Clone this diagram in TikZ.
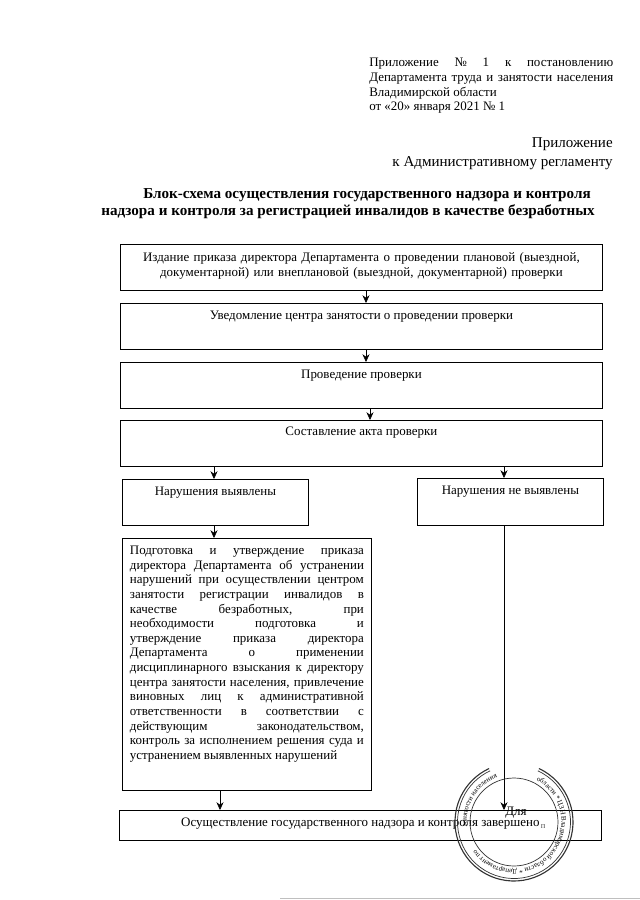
\documentclass[tikz,border=0pt]{standalone}
\usepackage{fontspec}
\setmainfont{Liberation Serif}
\usetikzlibrary{arrows.meta,positioning,decorations.text}
\newcommand{\bodyfont}{\fontsize{9.22}{10.42}\selectfont}
\begin{document}
\begin{tikzpicture}[x=0.25mm,y=-0.25mm,font=\bodyfont,
  box/.style={draw=black,line width=0.6pt,align=center,inner sep=0pt,text height=2.75mm},
  widebox/.style={box,minimum width=120.5mm,text depth=8.75mm},
  sidebox/.style={box,minimum width=46.5mm,text depth=7.75mm},
  lab/.style={inner sep=0pt,anchor=base west},
  labr/.style={inner sep=0pt,anchor=base east,align=right},
  ttl/.style={inner sep=0pt,anchor=base west,font=\fontsize{10.77}{12}\selectfont\bfseries},
  stamp/.style={black!80,line width=0.5pt},
  >={Stealth[length=5.5pt,width=5pt]}]
  \useasboundingbox (0,0) rectangle (640,900);
  \node[lab,text width=61mm,align=justify] (dec) at (369,67) {Приложение № 1 к постановлению\linebreak Департамента труда и занятости населения\linebreak Владимирской области\\от «20» января 2021 № 1};
  \node[labr,font=\fontsize{10.7}{12.9}\selectfont] (reg) at (613,166) {Приложение\\к Административному регламенту};
  \node[ttl] (t1) at (143,198) {Блок-схема осуществления государственного надзора и контроля};
  \node[ttl] (t2) at (101,215) {надзора и контроля за регистрацией инвалидов в качестве безработных};
  \node[widebox,anchor=north west,text width=120.5mm,text height=4.25mm,text depth=7.25mm] (order) at (120,244) {Издание приказа директора Департамента о проведении плановой (выездной,\\документарной) или внеплановой (выездной, документарной) проверки};
  \node[widebox,anchor=north west,text height=4mm,text depth=7.5mm] (notice) at (120,303) {Уведомление центра занятости о проведении проверки};
  \node[widebox,anchor=north west,text height=4mm,text depth=7.5mm] (check) at (120,362) {Проведение проверки};
  \node[widebox,anchor=north west,text height=3.75mm,text depth=7.75mm] (act) at (120,420) {Составление акта проверки};
  \node[sidebox,anchor=north west,text height=4mm,text depth=7.5mm] (found) at (122,479) {Нарушения выявлены};
  \node[sidebox,anchor=north west,text height=4mm,text depth=7.75mm] (clean) at (417,478) {Нарушения не выявлены};
  \node[box,anchor=north west,minimum width=62.25mm,text width=58.5mm,align=justify,inner xsep=1.875mm,text height=4mm,text depth=59mm] (fix) at (122,538) {Подготовка и утверждение приказа\linebreak директора Департамента об устранении\linebreak нарушений при осуществлении центром\linebreak занятости регистрации инвалидов в\linebreak качестве безработных, при\linebreak необходимости подготовка и\linebreak утверждение приказа директора\linebreak Департамента о применении\linebreak дисциплинарного взыскания к директору\linebreak центра занятости населения, привлечение\linebreak виновных лиц к административной\linebreak ответственности в соответствии с\linebreak действующим законодательством,\linebreak контроль за исполнением решения суда и\linebreak устранением выявленных нарушений};
  \node[widebox,anchor=north west,text height=4mm,text depth=3.5mm] (done) at (119,810) {Осуществление государственного надзора и контроля завершено};
  \coordinate (ax1) at (366,0);
  \coordinate (ax2) at (370,0);
  \coordinate (ax3) at (214,0);
  \coordinate (ax4) at (504,0);
  \coordinate (ax5) at (220,0);
  \draw[->] (order.south -| ax1) -- (notice.north -| ax1);
  \draw[->] (notice.south -| ax1) -- (check.north -| ax1);
  \draw[->] (check.south -| ax2) -- (act.north -| ax2);
  \draw[->] (act.south -| ax3) -- (found.north -| ax3);
  \draw[->] (act.south -| ax4) -- (clean.north -| ax4);
  \draw[->] (found.south -| ax3) -- (fix.north -| ax3);
  \draw[->] (clean.south -| ax4) -- (done.north -| ax4);
  \draw[->] (fix.south -| ax5) -- (done.north -| ax5);
  % stamp
  \coordinate (seal) at (514,822);
  \begin{scope}[y=0.25mm]
    \draw[stamp] (seal) circle[radius=44];
    \draw[stamp,line width=0.8pt] (seal) ++(65:59) arc[start angle=65,end angle=-245,radius=59];
    \draw[stamp] (seal) ++(65:56.5) arc[start angle=65,end angle=-245,radius=56.5];
    \path[decorate,decoration={text along path,
      text={|\fontsize{5}{6}\selectfont|занятости населения}}]
      (seal) ++(185:47.5) arc[start angle=185,end angle=105,radius=47.5];
    \path[decorate,decoration={text along path,
      text={|\fontsize{5}{6}\selectfont|области * ЦЗН Владимирской области * Департамент по}}]
      (seal) ++(62:47.5) arc[start angle=62,end angle=-175,radius=47.5];
  \end{scope}
  \node[inner sep=0pt,anchor=base] (dlya) at (516,815) {Для};
  \node[inner sep=0pt,anchor=base,font=\fontsize{6}{7}\selectfont,text=black!70] (ps) at (543,828) {п};
  \draw[black!25,line width=0.4pt] (280,898) -- (640,898);
\end{tikzpicture}
\end{document}
